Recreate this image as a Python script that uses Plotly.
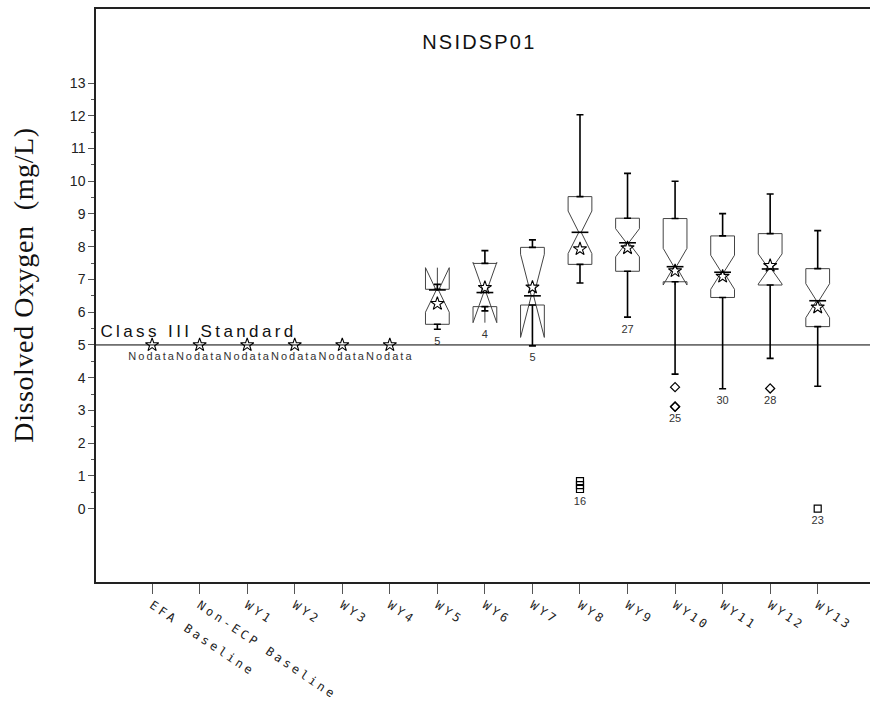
import plotly.graph_objects as go

# ---------------- data ----------------
categories = ["EFA Baseline", "Non-ECP Baseline", "WY1", "WY2", "WY3", "WY4", "WY5",
              "WY6", "WY7", "WY8", "WY9", "WY10", "WY11", "WY12", "WY13"]
nodata_cats = ["EFA Baseline", "Non-ECP Baseline", "WY1", "WY2", "WY3", "WY4"]
standard_value = 5.0

box_cats = ["WY5", "WY6", "WY7", "WY8", "WY9", "WY10", "WY11", "WY12", "WY13"]
q1 = [5.63, 6.17, 6.22, 7.46, 7.25, 6.93, 6.45, 6.83, 5.56]
median = [6.68, 6.60, 6.50, 8.44, 8.12, 7.39, 7.22, 7.32, 6.35]
q3 = [6.70, 7.49, 7.98, 9.53, 8.87, 8.86, 8.33, 8.40, 7.33]
whisker_low = [5.48, 6.04, 4.97, 6.89, 5.85, 4.11, 3.66, 4.59, 3.74]
whisker_high = [6.85, 7.88, 8.21, 12.03, 10.24, 10.00, 9.01, 9.61, 8.49]
notch_span = [0.68, 0.92, 1.27, 0.65, 0.43, 0.56, 0.52, 0.46, 0.52]
means = [6.26, 6.75, 6.76, 7.93, 7.96, 7.26, 7.09, 7.42, 6.15]
n_obs = [5, 4, 5, 16, 27, 25, 30, 28, 23]

out_cats = ["WY8", "WY8", "WY8", "WY10", "WY10", "WY10", "WY12", "WY13"]
out_vals = [0.60, 0.72, 0.84, 3.71, 3.11, 3.12, 3.67, 0.00]
out_kind = ["far", "far", "far", "near", "near", "near", "near", "far"]

y_ticks = list(range(0, 14))

# ---------------- figure ----------------
fig = go.Figure()

# notched boxes (whiskers drawn separately)
fig.add_trace(go.Box(
    x=box_cats, q1=q1, median=median, q3=q3,
    lowerfence=q1, upperfence=q3,
    notched=True, notchspan=notch_span, notchwidth=0.45,
    width=0.5, whiskerwidth=0,
    fillcolor="rgba(0,0,0,0)",
    line=dict(color="#444444", width=1),
    boxpoints=False, showlegend=False, hoverinfo="skip"))

# bold median lines
fig.add_trace(go.Scatter(
    x=box_cats, y=median, mode="markers", showlegend=False, hoverinfo="skip",
    marker=dict(symbol="line-ew", size=12, color="black",
                line=dict(color="black", width=1.6))))

# whiskers with caps
fig.add_trace(go.Scatter(
    x=box_cats, y=q3, mode="markers", showlegend=False, hoverinfo="skip",
    marker=dict(color="rgba(0,0,0,0)", size=1),
    error_y=dict(type="data", symmetric=False,
                 array=[h - t for h, t in zip(whisker_high, q3)],
                 arrayminus=[0] * len(q3),
                 color="black", thickness=1.6, width=3.5)))
fig.add_trace(go.Scatter(
    x=box_cats, y=q1, mode="markers", showlegend=False, hoverinfo="skip",
    marker=dict(color="rgba(0,0,0,0)", size=1),
    error_y=dict(type="data", symmetric=False,
                 array=[0] * len(q1),
                 arrayminus=[b - l for b, l in zip(q1, whisker_low)],
                 color="black", thickness=1.6, width=3.5)))

# outliers
sym = {"near": "diamond-open", "far": "square-open"}
fig.add_trace(go.Scatter(
    x=out_cats, y=out_vals, mode="markers", showlegend=False, hoverinfo="skip",
    marker=dict(symbol=[sym[k] for k in out_kind], size=7, color="black",
                line=dict(color="black", width=1.2))))

# means
fig.add_trace(go.Scatter(
    x=box_cats, y=means, mode="markers", showlegend=False, hoverinfo="skip",
    marker=dict(symbol="star-open", size=10, color="black",
                line=dict(color="black", width=1.1))))

# no-data categories
fig.add_trace(go.Scatter(
    x=nodata_cats, y=[standard_value] * len(nodata_cats), mode="markers+text",
    text=["Nodata"] * len(nodata_cats), textposition="bottom center",
    textfont=dict(family="Arial", size=11, color="#333333"),
    showlegend=False, hoverinfo="skip",
    marker=dict(symbol="star-open", size=10, color="black",
                line=dict(color="black", width=1.1))))

# N labels below the lowest drawn point (whisker, notch or outlier)
lowest = []
for c, lo, md, ns in zip(box_cats, whisker_low, median, notch_span):
    vals = [v for oc, v in zip(out_cats, out_vals) if oc == c]
    lowest.append(min([lo, md - ns] + vals))
fig.add_trace(go.Scatter(
    x=box_cats, y=lowest, mode="markers+text", text=[str(v) for v in n_obs],
    textposition="bottom center",
    marker=dict(size=10, color="rgba(0,0,0,0)"),
    textfont=dict(family="Arial", size=11, color="#333333"),
    showlegend=False, hoverinfo="skip"))

# standard line
fig.add_shape(type="line", xref="paper", x0=0, x1=1, yref="y",
              y0=standard_value, y1=standard_value,
              line=dict(color="black", width=1))
fig.add_annotation(xref="paper", x=0.042, yref="y", y=standard_value,
                   xanchor="left", yanchor="bottom", yshift=2,
                   text="Class III Standard", showarrow=False,
                   font=dict(family="Arial", size=17, color="#111111"))

# title
fig.add_annotation(xref="paper", x=0.496, yref="paper", y=0.942,
                   xanchor="center", yanchor="middle",
                   text="NSIDSP01", showarrow=False,
                   font=dict(family="Arial", size=20, color="#111111"))

# y title
fig.add_annotation(xref="paper", x=-0.0943, yref="paper", y=0.5175,
                   xanchor="center", yanchor="middle", textangle=-90,
                   text="Dissolved Oxygen  (mg/L)", showarrow=False,
                   font=dict(family="Liberation Serif", size=28, color="#111111"))

fig.update_layout(
    width=870, height=702,
    margin=dict(l=96, r=0, t=9, b=120),
    plot_bgcolor="white", paper_bgcolor="white",
    showlegend=False,
    xaxis=dict(type="category", categoryorder="array", categoryarray=categories,
               range=[-1.18, 15.1], showline=True, mirror=True,
               linecolor="#222222", linewidth=1.5,
               ticks="outside", ticklen=10, tickcolor="#555555", tickwidth=1,
               tickangle=34, showgrid=False, zeroline=False,
               tickfont=dict(family="DejaVu Sans Mono", size=12, color="#222222")),
    yaxis=dict(range=[-2.24, 15.26], tickvals=y_ticks,
               ticktext=[str(t) for t in y_ticks],
               showline=True, linecolor="#222222", linewidth=1.5,
               ticks="outside", ticklen=6, tickcolor="#555555",
               minor=dict(tickvals=[t + 0.5 for t in y_ticks[:-1]],
                          ticks="outside", ticklen=3, tickcolor="#555555"),
               showgrid=False, zeroline=False,
               tickfont=dict(family="Arial", size=14, color="#222222")),
)

post = """
var gd = document.getElementById('{plot_id}');
function spacing(){
  gd.querySelectorAll('.xtick text').forEach(function(t){ t.style.letterSpacing = '3.1px'; });
  gd.querySelectorAll('.annotation-text').forEach(function(t){
    var s = t.textContent;
    if (s === 'Class III Standard') t.style.letterSpacing = '3.4px';
    else if (s === 'NSIDSP01') t.style.letterSpacing = '2.2px';
    else if (s.indexOf('Dissolved') === 0) t.style.letterSpacing = '0.6px';
  });
  gd.querySelectorAll('.textpoint text').forEach(function(t){
    if (t.textContent === 'Nodata') t.style.letterSpacing = '2px';
  });
}
spacing();
if (gd.on) gd.on('plotly_afterplot', spacing);
setTimeout(spacing, 50);
"""

fig.write_html("out.html", post_script=post)
